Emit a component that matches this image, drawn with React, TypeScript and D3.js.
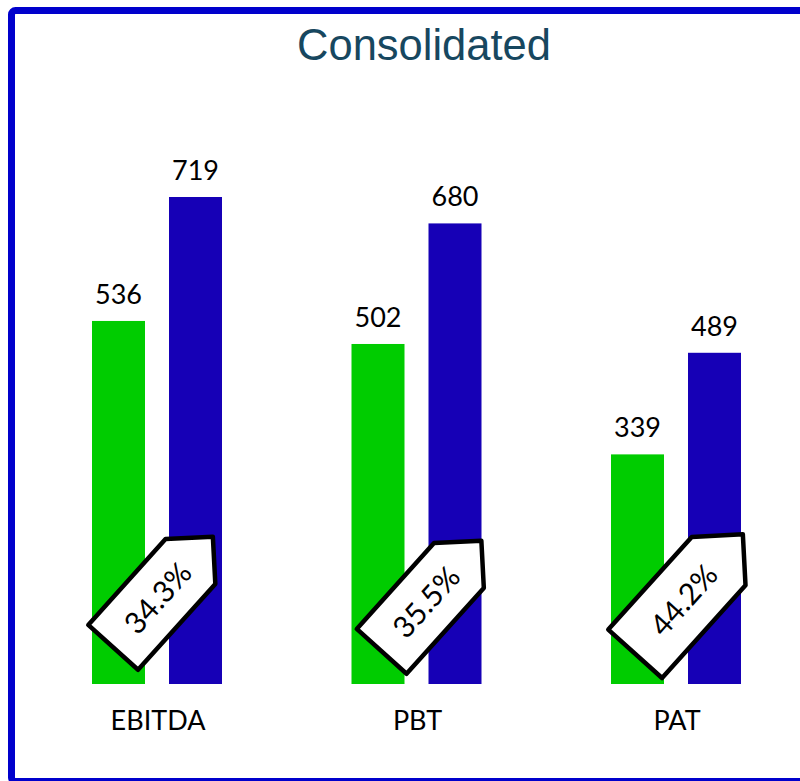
import React from "react";
import * as d3 from "d3";

const categories = ["EBITDA", "PBT", "PAT"];
const seriesNames = ["Previous", "Current"];
const previousValues = [536, 502, 339];
const currentValues = [719, 680, 489];
const growthLabels = ["34.3%", "35.5%", "44.2%"];
const title = "Consolidated";

const W = 800;
const H = 781;
const COLORS = ["#00CC00", "#1600B6"];
const TAG_DX = [6, 15, 13];
const TAG_DY = [-92, -88, -90];
const TAG_SCALE = [1, 1, 1.08];

function tagPath(L: number, Wd: number) {
  const h = Wd / 2;
  const x0 = -L / 2;
  const xb = L / 2 - h;
  const x1 = L / 2;
  return `M${x0},${-h} L${xb},${-h} L${x1},0 L${xb},${h} L${x0},${h} Z`;
}

export default function App() {
  const x0 = d3.scalePoint<string>().domain(categories).range([157, 676]);
  const x1 = d3.scaleBand<string>().domain(seriesNames).range([-65, 65]).paddingInner(0.3117);
  const maxV = d3.max(currentValues) as number;
  const y = d3.scaleLinear().domain([0, maxV]).range([684, 197]);
  const values = [previousValues, currentValues];
  const font = "Lato, 'Gill Sans', sans-serif";

  return (
    <svg width={W} height={H} style={{ position: "absolute", left: 0, top: 0, background: "#fff" }}>
      <rect x={11.5} y={10.5} width={820} height={771} rx={4} fill="#fff" stroke="#0000CC" strokeWidth={7} />
      <text x={424} y={60} textAnchor="middle" fontFamily="'Liberation Sans', Arial, sans-serif" fontSize={43.5} fill="#17475F">
        {title}
      </text>
      {categories.map((c, i) => (
        <g key={c}>
          {seriesNames.map((s, j) => {
            const v = values[j][i];
            const bx = (x0(c) as number) + (x1(s) as number);
            const bw = x1.bandwidth();
            return (
              <g key={s}>
                <rect x={bx} y={y(v)} width={bw} height={y(0) - y(v)} fill={COLORS[j]} />
                <text x={bx + bw / 2} y={y(v) - 17} textAnchor="middle" fontFamily={font} fontSize={27} fill="#000">
                  {v}
                </text>
              </g>
            );
          })}
          <text x={(x0(c) as number) + 1} y={730} textAnchor="middle" fontFamily={font} fontSize={27} fill="#000">
            {c}
          </text>
        </g>
      ))}
      {categories.map((c, i) => {
        const cx = (x0(c) as number) + TAG_DX[i];
        const cy = y(0) + TAG_DY[i];
        const sc = TAG_SCALE[i];
        return (
          <g key={"tag" + c} transform={`translate(${cx},${cy}) rotate(-48)`}>
            <path d={tagPath(149 * sc, 67 * sc)} fill="#fff" stroke="#000" strokeWidth={4.5} strokeLinejoin="round" />
            <text x={-8} y={0} dy="0.36em" textAnchor="middle" fontFamily={font} fontSize={30} fill="#000">
              {growthLabels[i]}
            </text>
          </g>
        );
      })}
    </svg>
  );
}
